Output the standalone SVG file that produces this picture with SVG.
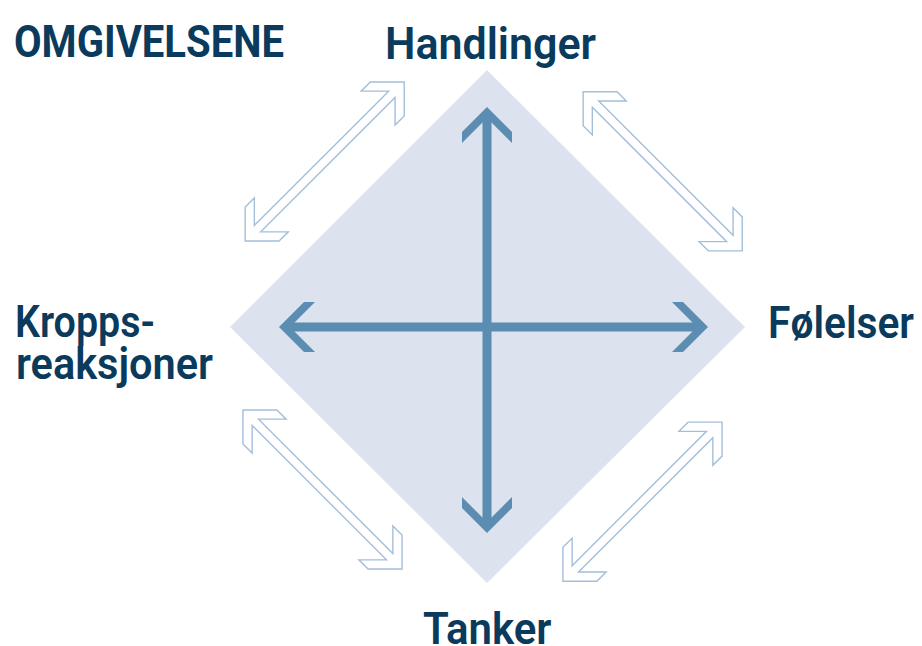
<svg xmlns="http://www.w3.org/2000/svg" xmlns:xlink="http://www.w3.org/1999/xlink" width="922" height="646" viewBox="0 0 922 646">
  <style>
    .lbl { font-family: Roboto, "Noto Sans", "Liberation Sans", sans-serif; font-weight: 700; fill: #0a3a5c; }
    .axis { stroke: #5b8cb1; stroke-width: 9; fill: none; marker-start: url(#head); marker-end: url(#head); }
    .dbl { fill: #ffffff; stroke: #a3bfda; stroke-width: 1.4; stroke-linejoin: miter; }
  </style>
  <defs>
    <marker id="head" markerUnits="userSpaceOnUse" orient="auto-start-reverse" refX="0" refY="0" markerWidth="60" markerHeight="60" overflow="visible">
      <path d="M8,0 L-17,-25 L-28,-25 L-7.5,-4.5 L-7.5,4.5 L-28,25 L-17,25 Z" fill="#5b8cb1"/>
    </marker>
    <path id="dblArrow" d="M112.5,0 L88.5,-24 L75.5,-24 L95,-4.5 L-95,-4.5 L-75.5,-24 L-88.5,-24 L-112.5,0 L-88.5,24 L-75.5,24 L-95,4.5 L95,4.5 L75.5,24 L88.5,24 Z"/>
  </defs>

  <rect width="922" height="646" fill="#ffffff"/>

  <g id="diamond">
    <polygon points="487,70 745,327 487,583 230,327" fill="#dce3ee"/>
  </g>

  <g id="connectors">
    <line class="axis" x1="487" y1="115" x2="487" y2="525"/>
    <line class="axis" x1="287" y1="327" x2="700" y2="327"/>
    <use xlink:href="#dblArrow" href="#dblArrow" class="dbl" transform="translate(324.7,161.5) rotate(-45)"/>
    <use xlink:href="#dblArrow" href="#dblArrow" class="dbl" transform="translate(662.7,171.3) rotate(45)"/>
    <use xlink:href="#dblArrow" href="#dblArrow" class="dbl" transform="translate(322.5,489.5) rotate(45)"/>
    <use xlink:href="#dblArrow" href="#dblArrow" class="dbl" transform="translate(642.5,501.7) rotate(-45)"/>
  </g>

  <g id="omgivelsene">
    <text class="lbl" x="14" y="56.7" font-size="44" textLength="270" lengthAdjust="spacingAndGlyphs">OMGIVELSENE</text>
  </g>
  <g id="handlinger">
    <text class="lbl" x="385" y="58.7" font-size="45" textLength="211" lengthAdjust="spacingAndGlyphs" style="font-weight:600">Handlinger</text>
  </g>
  <g id="kroppsreaksjoner">
    <text class="lbl" x="15" y="336.7" font-size="45" textLength="140" lengthAdjust="spacingAndGlyphs" style="font-weight:600">Kropps-</text>
    <text class="lbl" x="16" y="379.3" font-size="45" textLength="197" lengthAdjust="spacingAndGlyphs" style="font-weight:600">reaksjoner</text>
  </g>
  <g id="folelser">
    <text class="lbl" x="768" y="337.5" font-size="45" textLength="146" lengthAdjust="spacingAndGlyphs" style="font-weight:600">Følelser</text>
  </g>
  <g id="tanker">
    <text class="lbl" x="423" y="644" font-size="45" textLength="128.5" lengthAdjust="spacingAndGlyphs" style="font-weight:600">Tanker</text>
  </g>
</svg>
